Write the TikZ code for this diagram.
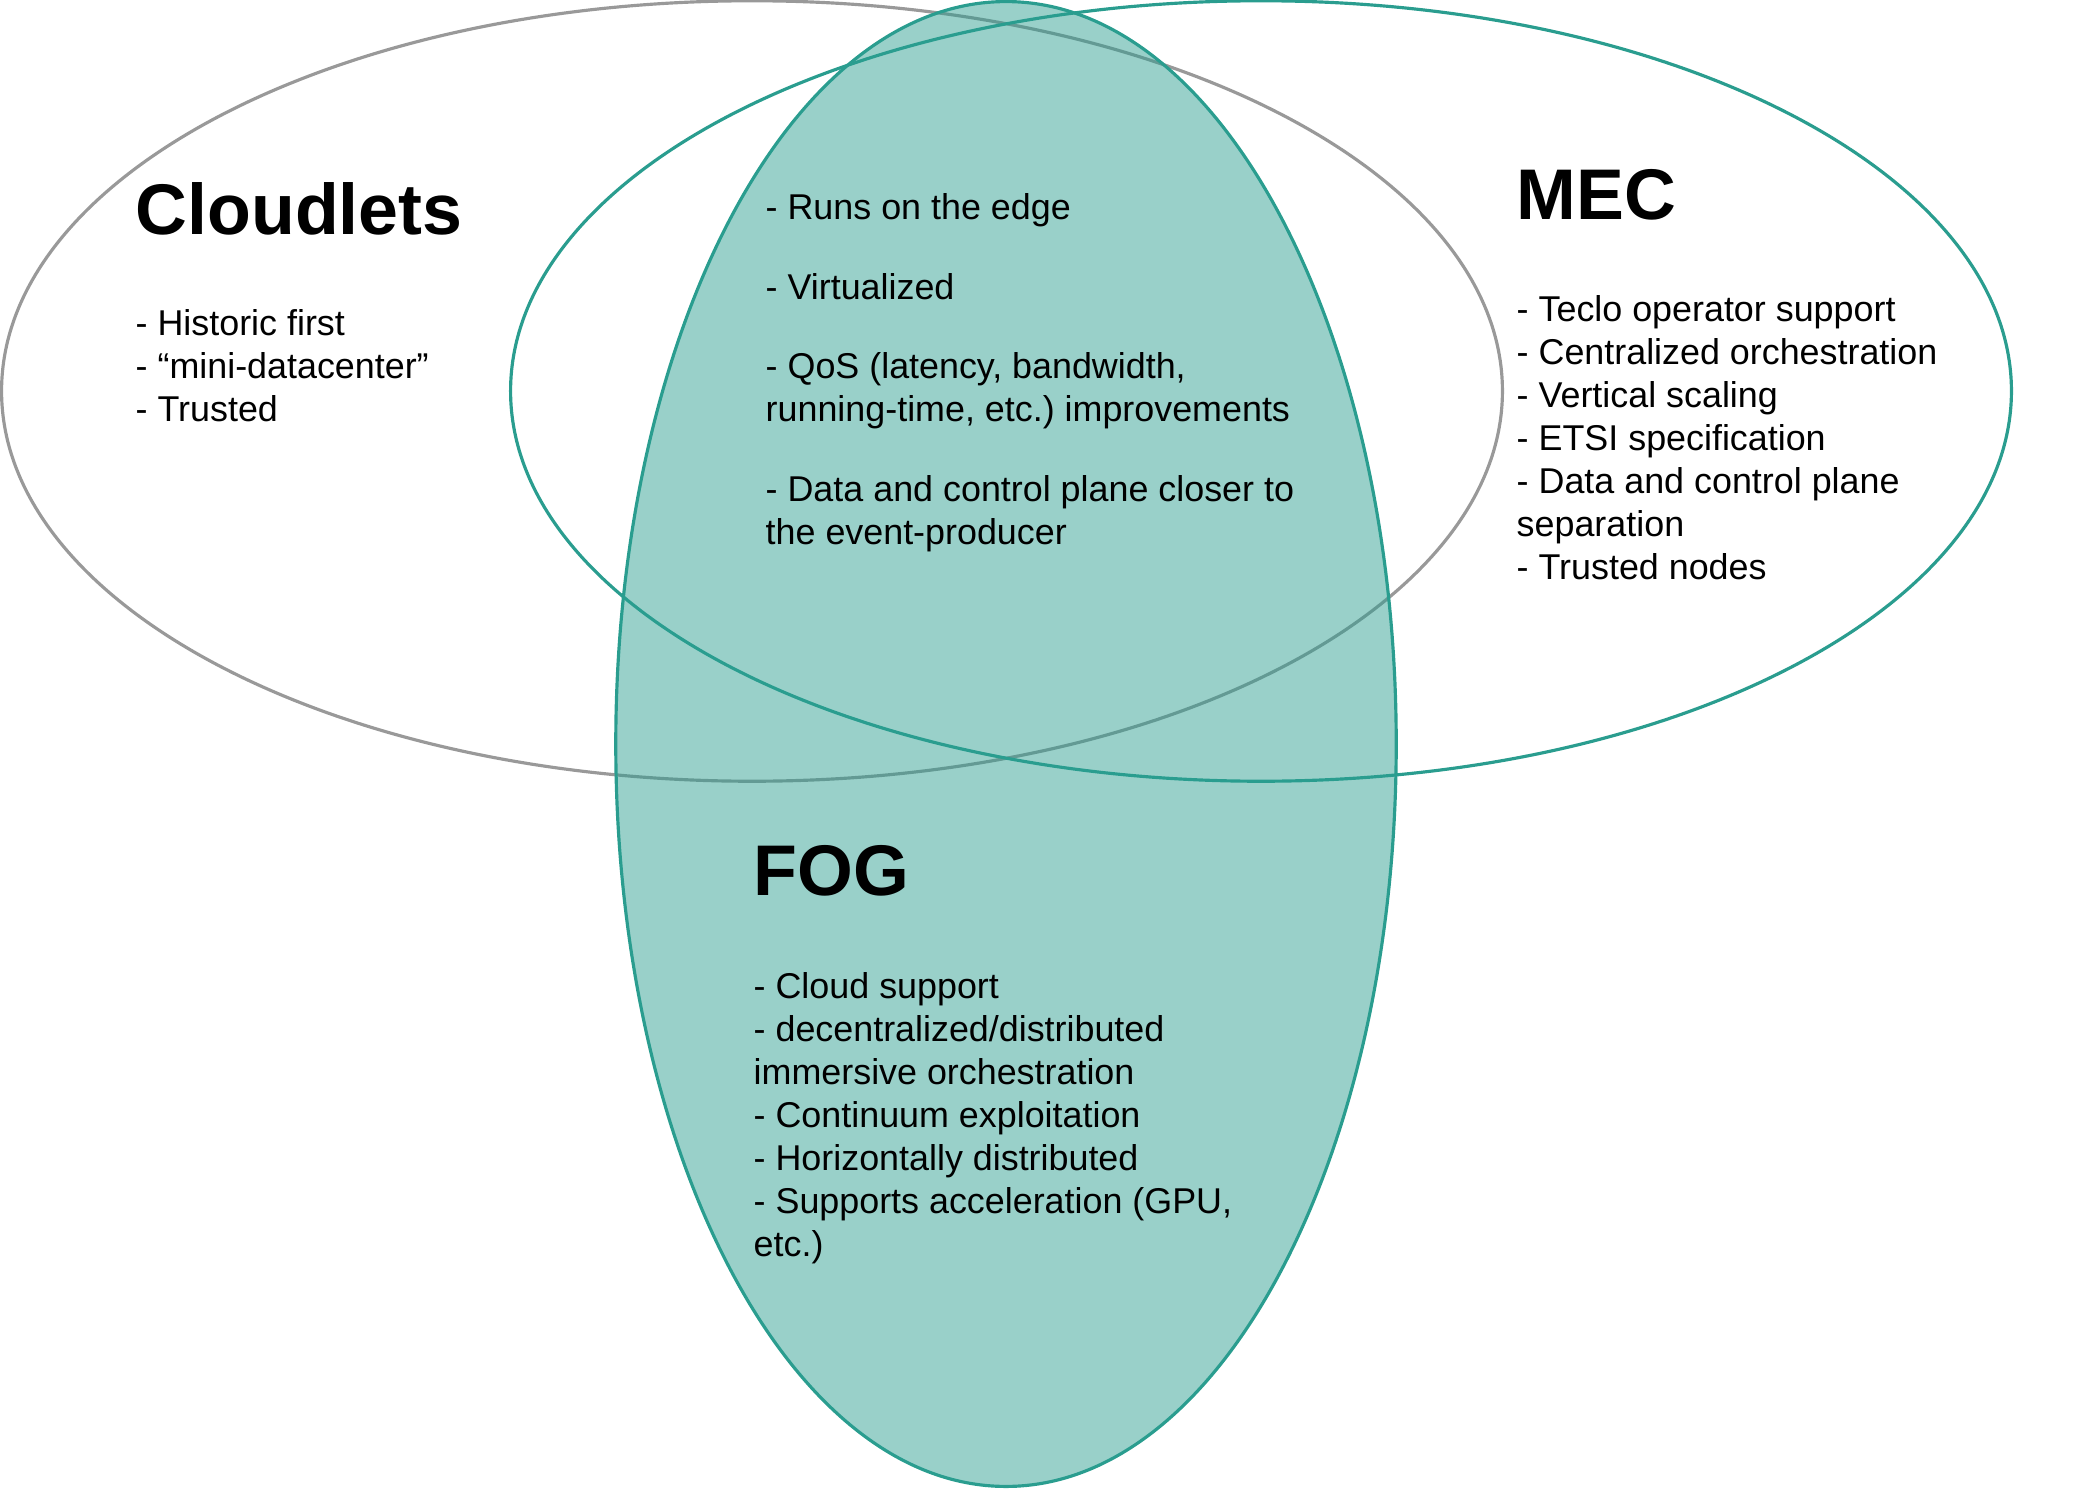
\documentclass[tikz,border=0pt]{standalone}
\usepackage{fontspec}
\setmainfont{Liberation Sans}
\usepackage{xcolor}
\usepackage{tikz}
\usetikzlibrary{positioning}

\definecolor{fogteal}{HTML}{2A9D8F}
\definecolor{cloudgray}{HTML}{999999}

\frenchspacing

\begin{document}
\begin{tikzpicture}[
    x=0.01cm, y=-0.01cm,
    setline/.style={line width=0.9pt},
    cloudset/.style={setline, draw=cloudgray},
    mecset/.style={setline, draw=fogteal},
    fogfill/.style={fill=fogteal, fill opacity=0.48},
    settitle/.style={anchor=base west, inner sep=0pt, font=\fontsize{20.4}{24}\selectfont\bfseries},
    setitems/.style={anchor=base west, inner sep=0pt, align=left, font=\fontsize{10.2}{12.2}\selectfont},
]
\useasboundingbox (0,0) rectangle (2073,1488);

% Cloudlets set (grey outline)
\draw[cloudset] (752,391) ellipse [x radius=7.5cm, y radius=3.9cm];

% FOG set filled, drawn over the Cloudlets outline
\fill[fogfill] (1006,744) ellipse [x radius=3.9cm, y radius=7.42cm];

% MEC set and FOG outline on top
\draw[mecset] (1261,391) ellipse [x radius=7.5cm, y radius=3.9cm];
\draw[mecset] (1006,744) ellipse [x radius=3.9cm, y radius=7.42cm];

% Cloudlets (items placed by their last baseline)
\node[settitle] (cloudlets) at (135,235) {Cloudlets};
\node[setitems] (cloudletsitems) at (135,421) {- Historic first\\- “mini-datacenter”\\- Trusted};

% Shared edge features
\node[setitems] (shared) at (765,544) {- Runs on the edge\\[10.4pt]- Virtualized\\[10.4pt]- QoS (latency, bandwidth,\\running-time, etc.) improvements\\[10.4pt]- Data and control plane closer to\\the event-producer};

% MEC
\node[settitle] (mec) at (1516,219) {MEC};
\node[setitems] (mecitems) at (1516,579) {- Teclo operator support\\- Centralized orchestration\\- Vertical scaling\\- ETSI specification\\- Data and control plane\\separation\\- Trusted nodes};

% FOG
\node[settitle] (fog) at (753,895) {FOG};
\node[setitems] (fogitems) at (753,1256) {- Cloud support\\- decentralized/distributed\\immersive orchestration\\- Continuum exploitation\\- Horizontally distributed\\- Supports acceleration (GPU,\\etc.)};

\end{tikzpicture}
\end{document}
